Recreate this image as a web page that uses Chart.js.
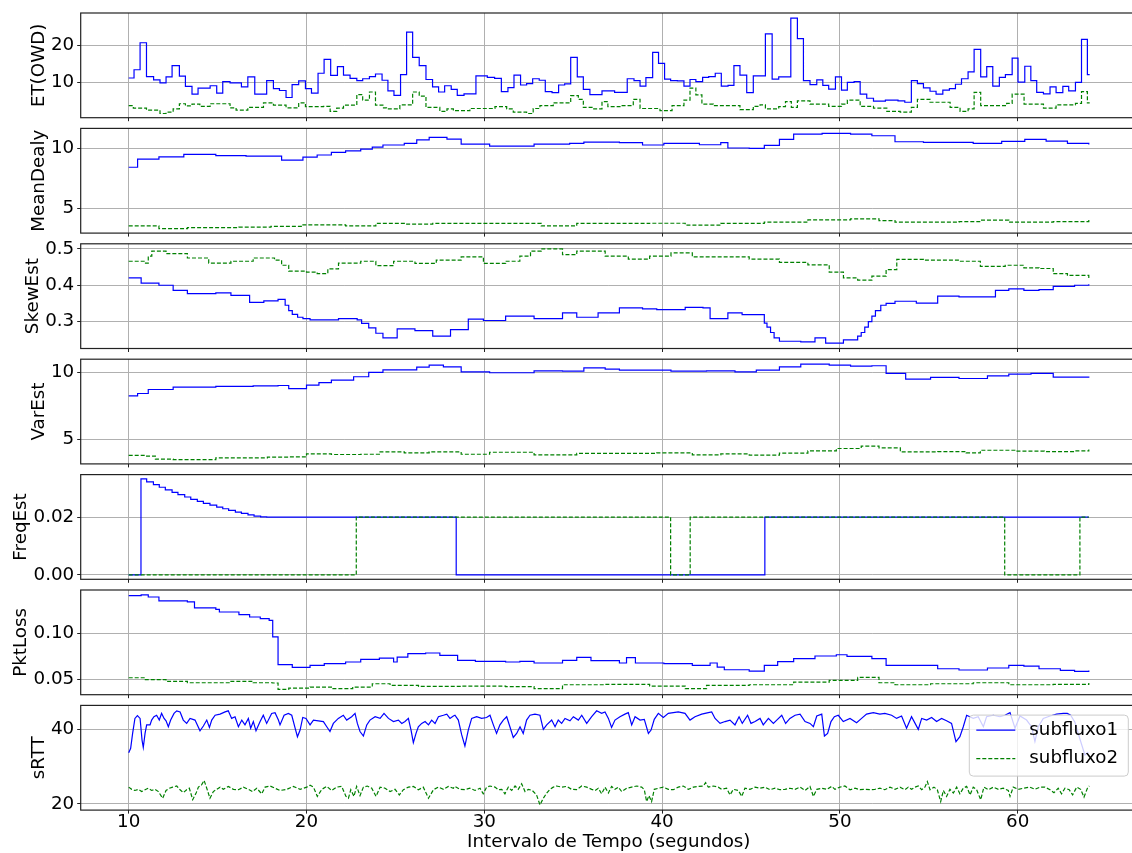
<!DOCTYPE html>
<html>
<head>
<meta charset="utf-8">
<script src="https://cdn.jsdelivr.net/npm/chart.js@4.4.1/dist/chart.umd.min.js"></script>
<style>
  html, body { margin: 0; padding: 0; width: 1132px; height: 853px; overflow: hidden; background: #fff; }
  canvas { position: absolute; left: 0; top: 0; }
</style>
</head>
<body>
<script>
// ---- data: [time (s), value] ----
const xTicks = [10, 20, 30, 40, 50, 60];
const xTitle = 'Intervalo de Tempo (segundos)';
const seriesNames = ['subfluxo1', 'subfluxo2'];

const etSub1 = [[10.0,11.2],[10.3,13.45],[10.64,20.8],[11.0,11.6],[11.4,10.7],[11.76,9.9],[12.1,11.5],[12.44,14.6],[12.85,11.7],[13.19,8.9],[13.56,6.8],[13.9,8.45],[14.58,9.1],[14.95,7.1],[15.29,10.2],[15.7,9.9],[16.34,8.8],[16.7,11.5],[17.09,6.8],[17.76,10.5],[18.14,8.3],[18.48,7.8],[18.85,5.9],[19.19,9.4],[19.56,10.4],[19.94,8.3],[20.28,7.1],[20.65,12.5],[20.99,16.3],[21.36,11.9],[21.74,14.3],[22.08,12.0],[22.45,11.1],[22.83,10.5],[23.16,11.0],[23.54,11.6],[23.88,12.3],[24.25,10.6],[24.58,7.7],[24.92,6.5],[25.29,12.1],[25.63,23.7],[25.97,16.8],[26.34,14.6],[26.72,10.8],[27.09,8.8],[27.43,7.4],[27.77,9.1],[28.14,8.1],[28.48,6.5],[28.86,6.9],[29.53,11.8],[30.17,11.4],[30.58,11.1],[30.96,7.5],[31.33,8.6],[31.67,12.0],[32.04,9.3],[32.38,9.7],[32.72,11.0],[33.09,10.6],[33.43,7.5],[33.81,7.2],[34.18,9.3],[34.52,9.6],[34.86,16.8],[35.23,11.5],[35.57,8.1],[35.94,6.7],[36.62,7.7],[37.33,7.3],[38.04,11.0],[38.42,10.5],[38.76,9.0],[39.09,11.3],[39.47,18.2],[39.8,15.2],[40.14,10.9],[40.48,10.5],[40.86,10.4],[41.23,9.0],[41.57,10.8],[41.9,10.2],[42.28,11.4],[42.62,11.6],[42.99,12.5],[43.33,9.0],[43.71,9.2],[44.04,14.6],[44.38,12.0],[44.76,7.2],[45.13,11.8],[45.81,23.2],[46.19,10.9],[46.56,11.5],[47.24,27.5],[47.61,21.9],[47.95,10.5],[48.32,9.4],[48.7,10.7],[49.04,9.2],[49.37,8.2],[49.75,11.5],[50.09,7.9],[50.42,10.0],[50.8,10.2],[51.14,6.8],[51.51,5.7],[51.89,4.9],[52.56,5.2],[53.27,5.0],[53.65,4.6],[54.02,10.5],[54.36,9.7],[54.7,8.5],[55.07,7.6],[55.41,6.8],[55.79,7.9],[56.16,8.3],[56.5,9.5],[56.84,11.0],[57.21,12.9],[57.55,19.0],[57.92,11.5],[58.26,14.3],[58.6,9.0],[58.97,11.4],[59.31,12.1],[59.69,16.6],[60.02,10.1],[60.4,14.4],[60.74,10.5],[61.07,7.3],[61.45,6.9],[61.82,8.8],[62.16,7.2],[62.54,8.9],[62.87,7.7],[63.25,10.0],[63.59,21.7],[63.92,12.1],[64.05,12.1]];
const etSub2 = [[10.0,3.7],[10.26,3.0],[11.0,2.45],[11.76,1.55],[12.1,1.9],[12.5,2.8],[12.85,4.2],[13.19,3.6],[13.56,4.1],[14.0,3.5],[14.58,4.2],[15.7,3.1],[16.04,2.45],[16.7,3.2],[17.58,4.45],[18.14,3.8],[18.85,3.1],[19.56,4.45],[19.94,3.4],[20.95,3.5],[21.33,2.1],[21.7,3.0],[22.08,3.8],[22.83,6.7],[23.16,5.2],[23.54,7.4],[23.88,3.8],[24.33,3.1],[24.5,2.8],[25.25,3.9],[25.97,7.4],[26.34,6.3],[26.72,3.2],[27.5,2.1],[27.9,2.8],[28.26,2.3],[29.19,2.9],[30.6,3.4],[31.26,2.8],[31.63,1.9],[32.38,1.55],[32.75,2.9],[33.13,3.7],[33.88,4.45],[34.86,6.4],[35.29,5.4],[35.57,3.2],[36.1,2.8],[36.62,4.8],[36.95,3.4],[37.63,3.7],[38.38,5.4],[38.76,2.9],[39.88,2.3],[40.56,3.7],[41.23,5.2],[41.57,8.45],[41.9,6.6],[42.24,4.1],[42.88,3.7],[44.38,2.6],[45.13,3.5],[45.51,3.9],[45.81,2.8],[46.56,3.4],[46.94,4.8],[47.27,3.2],[47.61,5.0],[48.32,4.1],[49.37,3.5],[50.09,4.1],[50.42,5.2],[51.14,3.5],[51.89,3.0],[52.64,2.1],[53.39,1.9],[54.02,3.2],[54.36,5.4],[55.07,4.6],[56.2,3.2],[56.76,2.1],[57.21,2.8],[57.55,7.3],[57.92,3.7],[59.38,4.3],[59.69,6.8],[60.36,4.1],[61.45,3.0],[62.16,3.9],[63.25,4.3],[63.59,7.5],[63.92,4.45],[64.05,4.45]];

const meanSub1 = [[10.0,8.43],[10.5,9.1],[11.7,9.3],[13.1,9.5],[14.9,9.4],[16.6,9.36],[18.6,9.03],[19.8,9.28],[20.6,9.45],[21.4,9.67],[22.2,9.8],[23.05,9.94],[23.7,10.1],[24.3,10.28],[25.5,10.41],[26.2,10.7],[26.9,10.91],[27.9,10.77],[28.7,10.36],[30.3,10.19],[32.8,10.36],[34.8,10.41],[35.6,10.52],[37.6,10.47],[38.9,10.28],[40.1,10.41],[42.1,10.3],[43.3,10.47],[43.7,10.03],[44.9,10.0],[45.75,10.25],[46.6,10.75],[47.4,11.19],[49.0,11.24],[50.6,11.19],[51.8,11.05],[53.1,10.55],[54.7,10.5],[56.7,10.5],[57.5,10.41],[59.1,10.58],[60.4,10.75],[61.6,10.61],[62.8,10.41],[64.0,10.33]];
const meanSub2 = [[10.0,3.56],[11.7,3.34],[13.3,3.42],[16.2,3.45],[18.0,3.52],[19.8,3.65],[22.2,3.56],[23.9,3.76],[25.5,3.7],[27.1,3.76],[30.3,3.76],[33.2,3.56],[35.2,3.76],[39.3,3.78],[41.3,3.62],[43.3,3.76],[45.75,3.87],[48.2,4.06],[50.6,4.14],[52.2,4.0],[53.1,3.87],[56.7,3.92],[57.9,4.03],[59.5,3.87],[62.0,3.92],[64.0,4.06]];

const skewSub1 = [[10.0,0.42],[10.7,0.406],[11.7,0.40],[12.5,0.386],[13.3,0.377],[14.9,0.379],[15.75,0.372],[16.8,0.353],[17.6,0.357],[18.4,0.361],[18.8,0.345],[19.0,0.33],[19.2,0.32],[19.5,0.312],[19.8,0.308],[20.2,0.305],[21.2,0.305],[21.8,0.308],[22.85,0.305],[23.1,0.295],[23.5,0.283],[23.9,0.268],[24.3,0.255],[25.1,0.28],[26.1,0.275],[27.1,0.26],[28.1,0.278],[29.1,0.307],[29.95,0.303],[31.2,0.315],[32.8,0.308],[34.4,0.324],[35.2,0.312],[36.4,0.324],[37.6,0.338],[38.9,0.335],[39.7,0.333],[41.3,0.339],[42.3,0.338],[42.7,0.308],[43.7,0.324],[44.5,0.319],[45.75,0.296],[45.9,0.285],[46.1,0.27],[46.3,0.255],[46.6,0.246],[47.8,0.244],[48.6,0.255],[49.2,0.241],[50.2,0.25],[51.0,0.26],[51.2,0.27],[51.4,0.285],[51.6,0.30],[51.8,0.315],[52.0,0.33],[52.3,0.345],[52.6,0.35],[53.1,0.356],[54.3,0.351],[55.5,0.37],[56.7,0.368],[58.75,0.386],[59.5,0.39],[60.35,0.386],[61.2,0.388],[62.0,0.397],[63.2,0.40],[64.0,0.403]];
const skewSub2 = [[10.0,0.466],[10.9,0.461],[11.1,0.48],[11.3,0.494],[12.1,0.487],[13.3,0.475],[14.5,0.461],[15.75,0.466],[17.0,0.475],[18.2,0.469],[18.6,0.455],[19.0,0.439],[20.0,0.436],[20.6,0.432],[21.2,0.445],[21.8,0.461],[23.05,0.466],[23.9,0.454],[24.9,0.466],[26.1,0.46],[27.3,0.469],[28.7,0.478],[29.95,0.46],[31.2,0.466],[32.0,0.48],[32.6,0.494],[33.2,0.50],[34.4,0.484],[35.2,0.494],[36.8,0.48],[38.1,0.472],[39.3,0.48],[40.5,0.489],[41.7,0.478],[43.3,0.478],[44.9,0.472],[46.6,0.463],[48.2,0.456],[49.4,0.436],[50.2,0.42],[51.0,0.414],[51.8,0.425],[52.6,0.443],[53.2,0.471],[54.7,0.469],[56.7,0.466],[57.9,0.452],[59.3,0.455],[60.35,0.448],[61.2,0.446],[62.0,0.432],[62.8,0.427],[64.0,0.42]];

const varSub1 = [[10.0,8.26],[10.5,8.43],[11.1,8.73],[12.5,8.9],[14.9,8.96],[17.0,9.0],[18.4,9.03],[19.0,8.8],[20.0,9.05],[20.7,9.25],[21.4,9.43],[22.65,9.68],[23.5,10.0],[24.3,10.2],[25.5,10.2],[26.2,10.4],[26.9,10.55],[27.7,10.42],[28.7,10.05],[30.3,9.98],[32.8,10.12],[34.4,10.1],[35.6,10.35],[36.8,10.25],[37.6,10.17],[39.3,10.17],[40.5,10.1],[42.5,10.12],[44.1,10.05],[45.3,10.17],[46.6,10.42],[47.8,10.62],[49.4,10.55],[50.6,10.47],[51.8,10.5],[52.6,9.93],[53.7,9.5],[55.1,9.63],[56.7,9.55],[58.3,9.75],[59.5,9.88],[60.75,9.93],[62.0,9.65],[64.0,9.6]];
const varSub2 = [[10.0,3.81],[10.9,3.76],[11.5,3.53],[12.5,3.5],[14.9,3.63],[17.8,3.68],[19.0,3.7],[20.0,3.93],[21.4,3.88],[23.05,3.9],[24.1,4.08],[25.5,4.0],[26.9,4.08],[28.7,3.9],[30.3,4.05],[32.8,3.86],[35.2,3.96],[37.6,3.96],[39.7,4.0],[41.7,3.86],[43.3,3.93],[44.9,3.83],[46.6,3.98],[48.2,4.15],[49.8,4.33],[51.2,4.5],[52.2,4.38],[53.4,4.08],[55.5,4.1],[57.1,4.0],[57.9,4.2],[59.9,4.13],[61.5,4.1],[63.2,4.15],[64.0,4.25]];

const freqSub1 = [[10.0,0],[10.69,0.03323],[11.01,0.03219],[11.39,0.03125],[11.72,0.03032],[12.06,0.0294],[12.44,0.02858],[12.77,0.02777],[13.15,0.02696],[13.49,0.02614],[13.86,0.02545],[14.2,0.02475],[14.57,0.02417],[14.95,0.02347],[15.29,0.02289],[15.62,0.02231],[16.0,0.02173],[16.34,0.02127],[16.71,0.0208],[17.05,0.02034],[17.42,0.0201],[17.76,0.02],[28.42,0],[45.78,0.02],[64.0,0.02]];
const freqSub2 = [[10.0,0],[22.8,0.02],[40.48,0],[41.58,0.02],[59.27,0],[63.5,0.02],[64.0,0.02]];

const lossSub1 = [[10.0,0.1406],[10.7,0.1413],[11.1,0.1391],[11.7,0.1348],[13.3,0.1337],[13.7,0.1272],[14.9,0.1257],[15.1,0.1228],[16.2,0.1199],[16.8,0.1174],[17.4,0.1156],[17.9,0.1138],[18.1,0.0957],[18.4,0.0656],[19.2,0.0627],[20.2,0.0649],[21.0,0.0667],[22.2,0.0685],[23.05,0.0714],[24.1,0.0728],[24.9,0.0685],[25.1,0.0739],[25.7,0.0775],[26.7,0.0783],[27.5,0.0757],[28.5,0.0703],[29.5,0.0692],[31.2,0.0685],[32.0,0.0692],[32.8,0.0674],[34.4,0.0703],[35.2,0.0736],[36.0,0.0699],[37.6,0.0674],[38.0,0.0732],[38.5,0.0674],[40.1,0.0667],[41.7,0.0649],[42.7,0.0674],[43.1,0.063],[43.5,0.0601],[44.9,0.0587],[45.75,0.0649],[46.5,0.069],[47.4,0.0721],[48.6,0.075],[49.8,0.0764],[50.4,0.0746],[51.8,0.0721],[52.6,0.0649],[54.3,0.0649],[55.5,0.0612],[56.7,0.0598],[58.3,0.062],[59.5,0.0649],[60.35,0.0641],[61.2,0.0612],[62.4,0.0594],[63.2,0.0583],[64.0,0.0594]];
const lossSub2 = [[10.0,0.0514],[10.9,0.0493],[12.1,0.0475],[13.3,0.046],[15.75,0.0475],[17.0,0.046],[18.1,0.0457],[18.4,0.0388],[19.0,0.0402],[20.2,0.0413],[21.4,0.0395],[22.6,0.0413],[23.7,0.0449],[24.7,0.0431],[26.3,0.042],[28.7,0.0424],[31.2,0.0417],[32.8,0.0395],[34.4,0.0438],[36.8,0.0442],[39.3,0.0424],[41.3,0.0395],[42.5,0.0431],[44.9,0.0438],[47.4,0.0467],[49.4,0.0486],[51.0,0.0518],[52.2,0.046],[53.1,0.0438],[55.1,0.0449],[57.5,0.046],[59.5,0.0438],[62.0,0.0442],[64.0,0.0457]];

const rttSub1 = [[10.0,33.8],[10.11,35.0],[10.22,39.0],[10.35,43.05],[10.49,43.8],[10.64,43.05],[10.75,37.2],[10.82,35.2],[10.92,39.0],[11.01,41.3],[11.2,41.3],[11.29,42.6],[11.42,43.5],[11.57,43.9],[11.72,42.6],[11.85,44.4],[11.99,43.05],[12.1,42.4],[12.23,40.8],[12.36,42.6],[12.55,44.4],[12.7,45.1],[12.89,44.8],[13.07,42.6],[13.26,41.7],[13.45,43.05],[13.73,42.6],[13.86,41.3],[14.01,39.7],[14.2,41.0],[14.39,42.6],[14.54,40.6],[14.67,42.6],[14.86,43.9],[15.14,44.2],[15.42,44.8],[15.6,45.1],[15.79,43.05],[15.98,43.5],[16.17,40.8],[16.36,42.6],[16.54,41.3],[16.73,43.05],[16.86,40.4],[17.01,42.2],[17.16,39.7],[17.39,42.2],[17.57,43.9],[17.76,41.7],[18.04,44.4],[18.23,44.6],[18.42,42.6],[18.51,41.3],[18.74,43.9],[18.98,44.4],[19.17,43.9],[19.36,40.4],[19.49,38.1],[19.64,39.9],[19.79,43.3],[19.97,43.05],[20.2,41.3],[20.39,42.6],[20.67,42.4],[20.95,42.2],[21.14,40.8],[21.32,39.5],[21.51,41.7],[21.79,43.05],[22.07,43.9],[22.26,42.6],[22.54,43.5],[22.73,44.4],[22.86,41.7],[23.01,39.5],[23.2,38.3],[23.39,41.3],[23.57,42.6],[23.86,43.5],[24.14,43.05],[24.36,44.4],[24.61,43.05],[24.89,42.2],[25.17,42.6],[25.36,41.7],[25.54,42.2],[25.73,43.05],[25.88,39.9],[26.01,36.5],[26.16,39.0],[26.29,40.8],[26.48,41.7],[26.67,42.2],[26.86,41.3],[27.04,42.6],[27.23,41.7],[27.42,43.5],[27.7,43.9],[27.89,44.2],[28.07,43.05],[28.26,43.7],[28.35,43.9],[28.54,42.6],[28.73,38.6],[28.91,35.6],[29.1,39.9],[29.29,43.05],[29.57,43.5],[29.85,43.05],[30.13,43.3],[30.32,43.9],[30.51,41.3],[30.69,39.0],[30.88,41.3],[31.07,42.6],[31.26,43.5],[31.44,40.8],[31.63,37.9],[31.82,39.0],[32.01,40.8],[32.19,39.0],[32.38,42.6],[32.57,43.9],[32.85,44.2],[33.13,43.9],[33.32,40.1],[33.51,41.3],[33.79,42.6],[33.98,40.8],[34.16,42.6],[34.35,41.7],[34.54,43.05],[34.82,42.4],[35.01,43.5],[35.29,42.6],[35.48,43.9],[35.76,41.7],[36.04,43.5],[36.32,45.1],[36.6,44.4],[36.79,44.8],[36.98,43.05],[37.16,40.6],[37.35,42.6],[37.63,43.5],[37.91,44.2],[38.1,44.6],[38.29,41.3],[38.48,43.5],[38.76,42.6],[39.0,42.8],[39.23,39.0],[39.38,39.9],[39.56,42.8],[39.79,44.4],[40.07,43.3],[40.35,44.4],[40.63,44.6],[40.91,44.8],[41.29,44.4],[41.57,42.6],[41.85,43.5],[42.23,44.2],[42.6,44.6],[42.79,44.8],[42.98,43.05],[43.26,41.7],[43.54,42.2],[43.82,42.6],[44.1,41.3],[44.33,43.5],[44.51,41.7],[44.81,43.9],[45.0,41.7],[45.23,42.2],[45.51,43.05],[45.69,41.3],[45.98,43.05],[46.26,41.7],[46.45,42.6],[46.73,43.9],[46.95,41.7],[47.19,43.05],[47.48,43.9],[47.76,44.2],[48.04,42.2],[48.32,41.7],[48.51,40.8],[48.7,43.7],[48.98,44.2],[49.13,38.3],[49.31,39.0],[49.5,42.2],[49.69,43.5],[49.91,43.9],[50.19,42.2],[50.57,43.05],[50.94,41.9],[51.22,43.05],[51.5,44.2],[51.88,44.6],[52.25,44.2],[52.53,44.4],[52.91,43.9],[53.19,43.05],[53.47,43.7],[53.75,40.4],[54.03,43.5],[54.41,40.1],[54.6,43.05],[54.88,42.6],[55.16,43.3],[55.44,42.2],[55.72,43.05],[56.0,42.4],[56.28,41.7],[56.53,36.8],[56.75,38.1],[56.94,40.8],[57.13,43.9],[57.5,43.05],[57.78,43.5],[58.07,40.8],[58.25,43.5],[58.63,43.9],[59.0,43.5],[59.28,43.9],[59.57,44.6],[59.85,40.4],[60.13,43.7],[60.5,42.6],[60.78,40.8],[60.97,36.8],[61.16,40.8],[61.44,43.05],[61.82,43.7],[62.19,44.2],[62.57,44.4],[62.79,44.4],[62.98,43.9],[63.22,42.0],[63.5,37.5],[63.78,33.2],[63.97,34.0]];
const rttSub2 = [[10.0,24.5],[10.17,23.9],[10.35,23.6],[10.54,23.9],[10.73,23.3],[10.92,23.8],[11.1,24.2],[11.29,23.6],[11.48,23.9],[11.67,23.3],[11.91,21.5],[12.1,23.6],[12.29,24.2],[12.47,24.5],[12.7,24.8],[12.89,23.8],[13.07,23.0],[13.26,23.8],[13.41,24.2],[13.6,21.1],[13.79,22.9],[13.92,24.5],[14.1,25.1],[14.24,26.3],[14.39,24.2],[14.57,21.5],[14.76,23.3],[14.95,23.9],[15.14,24.5],[15.32,23.9],[15.6,24.7],[15.89,23.9],[16.17,23.8],[16.45,24.5],[16.73,23.9],[16.97,23.3],[17.2,24.2],[17.48,22.7],[17.67,24.5],[17.95,24.8],[18.23,24.2],[18.51,23.6],[18.89,23.9],[19.26,24.7],[19.64,23.9],[20.01,24.5],[20.2,25.0],[20.39,24.5],[20.61,22.0],[20.86,23.9],[21.14,24.7],[21.42,23.6],[21.7,24.5],[21.98,24.7],[22.22,22.0],[22.36,21.5],[22.49,23.8],[22.67,22.0],[22.82,24.7],[23.01,22.2],[23.2,24.5],[23.42,24.8],[23.67,24.2],[23.91,22.0],[24.14,24.5],[24.42,24.2],[24.7,23.3],[24.98,23.9],[25.22,22.4],[25.45,23.8],[25.73,24.5],[26.01,24.7],[26.29,23.8],[26.57,24.5],[26.86,21.5],[27.14,23.8],[27.42,24.5],[27.7,23.9],[27.98,24.7],[28.26,24.2],[28.35,24.7],[28.63,23.9],[28.91,23.8],[29.19,24.2],[29.48,23.6],[29.76,24.2],[29.94,22.7],[30.13,24.5],[30.32,24.8],[30.6,24.5],[30.79,23.8],[30.98,23.9],[31.16,22.7],[31.35,24.5],[31.54,23.6],[31.73,24.8],[31.91,23.9],[32.1,25.4],[32.29,23.3],[32.48,23.9],[32.7,23.6],[32.94,22.4],[33.13,19.7],[33.32,21.5],[33.51,22.9],[33.69,23.9],[33.88,24.5],[34.07,24.8],[34.35,24.5],[34.63,24.7],[34.91,23.9],[35.19,23.8],[35.48,24.8],[35.76,24.5],[36.04,23.9],[36.23,23.6],[36.41,24.2],[36.6,22.7],[36.79,24.5],[36.98,22.9],[37.16,24.7],[37.35,23.9],[37.54,24.5],[37.73,23.3],[38.01,24.2],[38.29,24.5],[38.57,24.8],[38.85,24.5],[39.0,23.8],[39.13,20.6],[39.26,22.2],[39.41,20.6],[39.56,23.9],[39.79,24.2],[40.07,24.5],[40.35,23.9],[40.63,23.8],[40.91,24.5],[41.19,24.8],[41.48,23.9],[41.76,24.5],[42.04,24.7],[42.32,24.8],[42.45,25.7],[42.6,24.5],[42.88,24.8],[43.16,24.5],[43.35,23.9],[43.63,24.2],[43.82,22.4],[44.01,23.9],[44.29,23.6],[44.48,22.0],[44.66,24.2],[44.94,23.9],[45.23,24.5],[45.51,24.2],[45.79,24.5],[46.07,23.8],[46.35,24.2],[46.63,23.8],[46.91,23.9],[47.19,24.2],[47.48,23.9],[47.76,24.5],[48.04,23.6],[48.32,24.7],[48.51,22.0],[48.7,23.9],[48.98,24.2],[49.26,23.9],[49.54,24.7],[49.72,23.9],[50.0,24.5],[50.28,24.8],[50.57,23.8],[50.85,24.2],[51.13,23.8],[51.41,23.9],[51.69,23.8],[51.97,23.9],[52.25,24.2],[52.53,23.8],[52.82,24.5],[53.1,23.9],[53.38,24.5],[53.66,23.8],[53.85,24.5],[54.03,23.9],[54.22,24.5],[54.41,24.8],[54.6,23.8],[54.78,24.5],[54.92,26.0],[55.07,23.8],[55.29,24.5],[55.48,23.8],[55.67,20.6],[55.82,23.6],[56.0,22.0],[56.19,23.9],[56.38,22.9],[56.57,24.5],[56.75,22.7],[56.94,24.2],[57.13,24.7],[57.32,22.4],[57.5,24.5],[57.69,23.8],[57.92,21.1],[58.1,24.5],[58.35,23.8],[58.63,24.5],[58.91,23.9],[59.19,24.2],[59.47,23.6],[59.57,22.0],[59.75,24.5],[60.03,23.9],[60.32,24.2],[60.69,24.5],[60.97,23.9],[61.25,24.5],[61.53,24.5],[61.82,23.8],[62.04,23.0],[62.28,24.2],[62.47,22.7],[62.66,24.2],[62.9,23.8],[63.09,22.4],[63.32,24.5],[63.54,23.9],[63.73,21.8],[63.92,24.2],[64.03,24.8]];

// y ticks per panel
const etTicks = [10, 20];
const meanTicks = [5, 10];
const skewTicks = [0.3, 0.4, 0.5];
const varTicks = [5, 10];
const freqTicks = [0.00, 0.02];
const lossTicks = [0.05, 0.10];
const rttTicks = [20, 40];

// ---- layout ----
const FONT = { family: 'DejaVu Sans', size: 18.3, lineHeight: 1.2 };
const PAGE_W = 1140, PAGE_H = 853;
const PLOT_LEFT = 80.7, PLOT_RIGHT = 1136.8;
const PANEL_TOP = 13, PANEL_H = 104.7, PANEL_STEP = 115.4;

const panels = [
  { label: 'ET(OWD)',   s1: etSub1,   s2: etSub2,   min: 0.4,     max: 28.9,   ticks: etTicks,   dec: 0, labelX: 39.5, step: true },
  { label: 'MeanDealy', s1: meanSub1, s2: meanSub2, min: 2.96,    max: 11.66,  ticks: meanTicks, dec: 0, labelX: 39.5, step: true },
  { label: 'SkewEst',   s1: skewSub1, s2: skewSub2, min: 0.226,   max: 0.514,  ticks: skewTicks, dec: 1, labelX: 33.5, step: true },
  { label: 'VarEst',    s1: varSub1,  s2: varSub2,  min: 3.18,    max: 10.99,  ticks: varTicks,  dec: 0, labelX: 39.5, step: true },
  { label: 'FreqEst',   s1: freqSub1, s2: freqSub2, min: -0.0015, max: 0.0347, ticks: freqTicks, dec: 2, labelX: 21.7, step: true },
  { label: 'PktLoss',   s1: lossSub1, s2: lossSub2, min: 0.033,   max: 0.1467, ticks: lossTicks, dec: 2, labelX: 21.7, step: true },
  { label: 'sRTT',      s1: rttSub1,  s2: rttSub2,  min: 18.3,    max: 46.56,  ticks: rttTicks,  dec: 0, labelX: 39.5, step: false }
];

Chart.defaults.font.family = FONT.family;
Chart.defaults.font.size = FONT.size;
Chart.defaults.color = '#000';

const frame = {
  id: 'frame',
  afterDraw(chart) {
    const { ctx, chartArea: a } = chart;
    ctx.save();
    ctx.strokeStyle = '#222';
    ctx.lineWidth = 1.2;
    ctx.strokeRect(a.left, a.top, a.right - a.left, a.bottom - a.top);
    ctx.restore();
  }
};

// matplotlib-like legend box in the upper right of the last panel
const legendBox = {
  id: 'legendBox',
  afterDraw(chart) {
    const { ctx, chartArea: a } = chart;
    const w = 159, h = 61;
    const x = a.right - 8.5 - w, y = a.top + 9.7;
    ctx.save();
    ctx.beginPath();
    ctx.roundRect(x, y, w, h, 4);
    ctx.fillStyle = 'rgba(255,255,255,0.8)';
    ctx.fill();
    ctx.strokeStyle = '#cccccc';
    ctx.lineWidth = 1;
    ctx.stroke();
    ctx.font = FONT.size + 'px ' + FONT.family;
    ctx.textBaseline = 'middle';
    ctx.textAlign = 'left';
    chart.data.datasets.forEach((ds, i) => {
      const ly = y + 15 + i * 28.5;
      ctx.beginPath();
      ctx.setLineDash(ds.borderDash || []);
      ctx.strokeStyle = ds.borderColor;
      ctx.lineWidth = ds.borderWidth;
      ctx.moveTo(x + 7, ly);
      ctx.lineTo(x + 46, ly);
      ctx.stroke();
      ctx.setLineDash([]);
      ctx.fillStyle = '#000';
      ctx.fillText(ds.label, x + 60, ly);
    });
    ctx.restore();
  }
};

function toXY(arr) {
  return arr.map(p => ({ x: p[0], y: p[1] }));
}

panels.forEach((p, i) => {
  const last = i === panels.length - 1;
  const top = PANEL_TOP + i * PANEL_STEP;
  const bottom = top + PANEL_H;
  const xAxisH = last ? PAGE_H - bottom : 10;

  const canvas = document.createElement('canvas');
  canvas.width = PAGE_W;
  canvas.height = PAGE_H;
  document.body.appendChild(canvas);

  // a level [t, v] holds from t until the next point
  new Chart(canvas.getContext('2d'), {
    type: 'line',
    data: {
      datasets: [{
        label: seriesNames[0],
        data: toXY(p.s1),
        borderColor: '#0000ff',
        borderWidth: 1.2,
        pointRadius: 0,
        stepped: p.step ? 'before' : false,
        order: 1
      }, {
        label: seriesNames[1],
        data: toXY(p.s2),
        borderColor: '#008000',
        borderWidth: 1.2,
        borderDash: [4, 2],
        pointRadius: 0,
        stepped: p.step ? 'before' : false,
        order: 0
      }]
    },
    options: {
      responsive: false,
      animation: false,
      devicePixelRatio: 1,
      layout: {
        padding: { left: 0, top: top, right: PAGE_W - PLOT_RIGHT, bottom: PAGE_H - bottom - xAxisH }
      },
      plugins: { legend: { display: false }, tooltip: { enabled: false } },
      scales: {
        x: {
          type: 'linear',
          min: 7.3,
          max: 66.7,
          afterBuildTicks: s => { s.ticks = xTicks.map(v => ({ value: v })); },
          afterFit: s => { s.height = xAxisH; s.paddingLeft = 0; s.paddingRight = 0; },
          grid: { color: '#b0b0b0', lineWidth: 1, tickColor: '#222', tickLength: 3.5 },
          border: { display: false },
          ticks: { display: last, padding: -2, maxRotation: 0, font: FONT },
          title: { display: last, text: xTitle, font: FONT, padding: { top: 0, bottom: 0 } }
        },
        y: {
          min: p.min,
          max: p.max,
          afterBuildTicks: s => { s.ticks = p.ticks.map(v => ({ value: v })); },
          afterFit: s => { s.width = PLOT_LEFT; s.paddingTop = 0; s.paddingBottom = 0; },
          grid: { color: '#b0b0b0', lineWidth: 1, tickColor: '#222', tickLength: 3.5 },
          border: { display: false },
          ticks: { padding: 3, font: FONT, callback: v => Number(v).toFixed(p.dec) },
          title: { display: true, text: p.label, font: FONT, padding: { top: p.labelX - FONT.size * FONT.lineHeight / 2, bottom: 0 } }
        }
      }
    },
    plugins: last ? [frame, legendBox] : [frame]
  });
});
</script>
</body>
</html>
